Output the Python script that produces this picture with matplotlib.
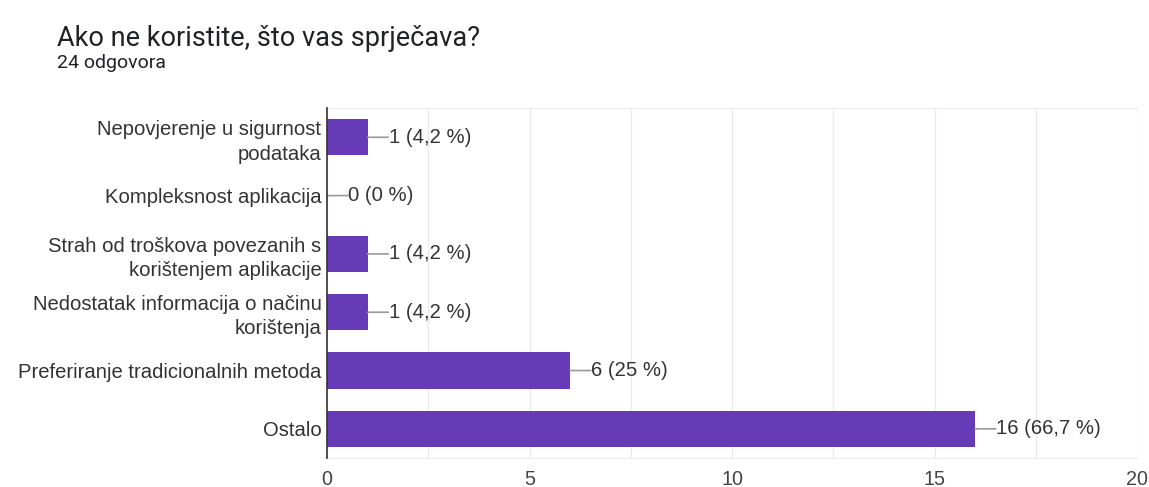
import matplotlib
matplotlib.use("Agg")
import matplotlib.pyplot as plt

plt.rcParams["font.family"] = ["Liberation Sans", "DejaVu Sans"]

TITLE = "Ako ne koristite, što vas sprječava?"
SUBTITLE = "24 odgovora"

categories = [
    "Nepovjerenje u sigurnost\npodataka",
    "Kompleksnost aplikacija",
    "Strah od troškova povezanih s\nkorištenjem aplikacije",
    "Nedostatak informacija o načinu\nkorištenja",
    "Preferiranje tradicionalnih metoda",
    "Ostalo",
]
counts = [1, 0, 1, 1, 6, 16]
percents = ["4,2", "0", "4,2", "4,2", "25", "66,7"]

BAR = "#673ab7"
GRID = "#ebebeb"
TEXT = "#333333"

fig = plt.figure(figsize=(11.49, 4.87), dpi=100)
ax = fig.add_axes([0.2846, 0.0595, 0.7050, 0.7185])

y = list(range(len(categories)))
ax.barh(y, counts, height=0.62, color=BAR, zorder=3)
ax.set_ylim(len(categories) - 0.5, -0.5)
ax.set_xlim(0, 20)

ax.set_xticks([0, 5, 10, 15, 20])
ax.set_xticks([2.5, 7.5, 12.5, 17.5], minor=True)
ax.grid(True, axis="x", which="both", color=GRID, linewidth=1, zorder=0)
ax.tick_params(axis="x", which="both", length=0, pad=8.5, labelsize=14.2, labelcolor="#444444")
ax.set_yticks(y)
ax.set_yticklabels(categories, fontsize=14.6, color=TEXT, ha="right", linespacing=1.35)
ax.tick_params(axis="y", length=0, pad=4)

for s in ["top", "bottom", "right"]:
    ax.spines[s].set_color(GRID)
ax.spines["right"].set_visible(False)
ax.spines["left"].set_color(TEXT)
ax.spines["left"].set_linewidth(1.2)
ax.spines["left"].set_zorder(4)

for yi, c, p in zip(y, counts, percents):
    ax.annotate("", xy=(c, yi), xytext=(15, 0), textcoords="offset points",
                arrowprops=dict(arrowstyle="-", color="#999999", lw=1.2,
                                shrinkA=0, shrinkB=0), zorder=4)
    ax.annotate(f"{c} ({p} %)", xy=(c, yi), xytext=(15.3, 0), textcoords="offset points",
                ha="left", va="center", fontsize=14.6, color=TEXT, zorder=4)

fig.text(57 / 1149, 1 - 39 / 487, TITLE, fontsize=19.5, color="#202124", va="center",
         ha="left", family="Roboto")
fig.text(57 / 1149, 1 - 63 / 487, SUBTITLE, fontsize=14, color="#202124", va="center",
         ha="left", family="Roboto")

fig.savefig("out.png", dpi=100)
